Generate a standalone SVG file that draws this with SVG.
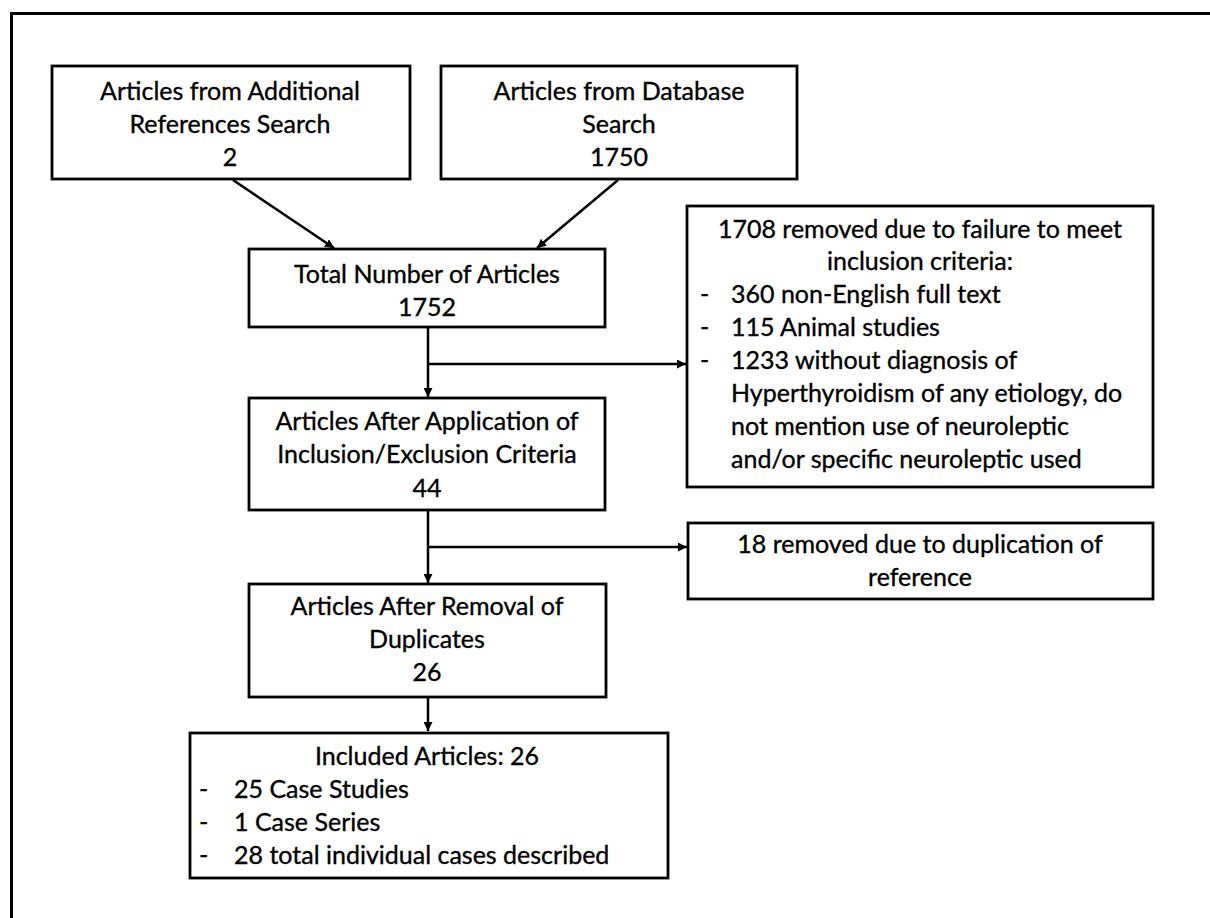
<svg xmlns="http://www.w3.org/2000/svg" width="1210" height="918" viewBox="0 0 1210 918">
<defs>
<style>
.box{fill:#fff;stroke:#000;stroke-width:2.8}
.t{font-family:Lato,"Open Sans",sans-serif;font-size:25px;fill:#000;stroke:#000;stroke-width:0.35}
.c{text-anchor:middle}
.ln{fill:none;stroke:#000;stroke-width:2.5}
</style>
<marker id="ah" viewBox="0 0 10 10" refX="10" refY="5" markerWidth="9" markerHeight="9" markerUnits="userSpaceOnUse" orient="auto">
<path d="M0,0 L10,5 L0,10 z" fill="#000"/>
</marker>
</defs>
<rect x="0" y="0" width="1210" height="918" fill="#fff"/>
<rect x="11.5" y="13.5" width="1220" height="930" fill="none" stroke="#000" stroke-width="3"/>

<g id="connectors">
<line class="ln" x1="233" y1="180" x2="334" y2="248" marker-end="url(#ah)"/>
<line class="ln" x1="618" y1="180" x2="537" y2="248" marker-end="url(#ah)"/>
<line class="ln" x1="428" y1="328" x2="428" y2="397" marker-end="url(#ah)"/>
<line class="ln" x1="428" y1="364" x2="686" y2="364" marker-end="url(#ah)"/>
<line class="ln" x1="428" y1="511" x2="428" y2="583" marker-end="url(#ah)"/>
<line class="ln" x1="428" y1="547" x2="687" y2="547" marker-end="url(#ah)"/>
<line class="ln" x1="428" y1="698" x2="428" y2="731" marker-end="url(#ah)"/>
</g>

<g id="n_additional">
<rect class="box" x="52" y="66" width="358" height="113"/>
<text class="t c" x="230" y="100">Articles from Additional</text>
<text class="t c" x="230" y="133">References Search</text>
<text class="t c" x="230" y="166">2</text>
</g>

<g id="n_database">
<rect class="box" x="441" y="66" width="356" height="113"/>
<text class="t c" x="619" y="100">Articles from Database</text>
<text class="t c" x="619" y="133">Search</text>
<text class="t c" x="619" y="166">1750</text>
</g>

<g id="n_total">
<rect class="box" x="249" y="249" width="356" height="78"/>
<text class="t c" x="427" y="283">Total Number of Articles</text>
<text class="t c" x="427" y="316">1752</text>
</g>

<g id="n_excl1">
<rect class="box" x="687" y="206" width="466" height="281"/>
<text class="t c" x="920" y="238">1708 removed due to failure to meet</text>
<text class="t c" x="920" y="270">inclusion criteria:</text>
<text class="t" x="700" y="303">-</text>
<text class="t" x="731" y="303">360 non-English full text</text>
<text class="t" x="700" y="336">-</text>
<text class="t" x="731" y="336">115 Animal studies</text>
<text class="t" x="700" y="369">-</text>
<text class="t" x="731" y="369">1233 without diagnosis of</text>
<text class="t" x="731" y="402">Hyperthyroidism of any etiology, do</text>
<text class="t" x="731" y="435">not mention use of neuroleptic</text>
<text class="t" x="731" y="468">and/or specific neuroleptic used</text>
</g>

<g id="n_application">
<rect class="box" x="249" y="398" width="356" height="112"/>
<text class="t c" x="427" y="430">Articles After Application of</text>
<text class="t c" x="427" y="463">Inclusion/Exclusion Criteria</text>
<text class="t c" x="427" y="497">44</text>
</g>

<g id="n_excl2">
<rect class="box" x="688" y="523" width="465" height="76"/>
<text class="t c" x="920" y="553">18 removed due to duplication of</text>
<text class="t c" x="920" y="586">reference</text>
</g>

<g id="n_removal">
<rect class="box" x="249" y="584" width="357" height="113"/>
<text class="t c" x="427" y="615">Articles After Removal of</text>
<text class="t c" x="427" y="648">Duplicates</text>
<text class="t c" x="427" y="681">26</text>
</g>

<g id="n_included">
<rect class="box" x="190" y="733" width="478" height="145"/>
<text class="t c" x="427" y="765">Included Articles: 26</text>
<text class="t" x="199" y="798">-</text>
<text class="t" x="234" y="798">25 Case Studies</text>
<text class="t" x="199" y="831">-</text>
<text class="t" x="234" y="831">1 Case Series</text>
<text class="t" x="199" y="864">-</text>
<text class="t" x="234" y="864">28 total individual cases described</text>
</g>
</svg>
